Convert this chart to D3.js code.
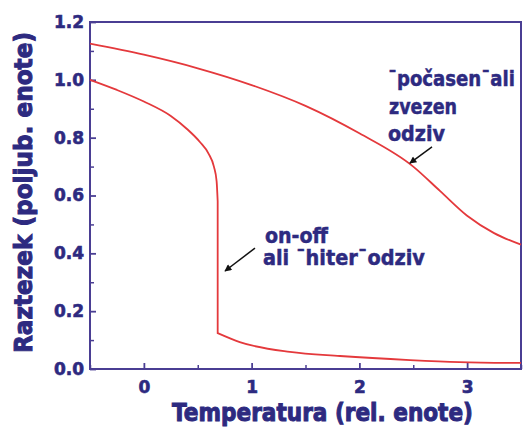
<!DOCTYPE html>
<html>
<head>
<meta charset="utf-8">
<script src="https://cdn.jsdelivr.net/npm/d3@7"></script>
<style>
  html, body { margin: 0; padding: 0; background: #fff; }
  #chart { width: 531px; height: 431px; }
</style>
</head>
<body>
<div id="chart"></div>
<script>
// tick values
const xTicks = [0, 1, 2, 3];
const xMinor = [-0.5, 0.5, 1.5, 2.5, 3.5];
const yTicks = [0, 0.2, 0.4, 0.6, 0.8, 1.0, 1.2];
const yMinor = [0.1, 0.3, 0.5, 0.7, 0.9, 1.1];

// "slow" (continuous) response
const slowX = [-0.5, 0, 0.5, 1, 1.5, 2, 2.5, 2.75, 3, 3.25, 3.5];
const slowY = [1.125, 1.087, 1.04, 0.982, 0.91, 0.815, 0.70, 0.615, 0.53, 0.47, 0.43];

// "fast" (on-off) response, the repeated x is the jump
const fastX = [-0.5, -0.25, 0, 0.25, 0.4, 0.52, 0.6, 0.65, 0.675, 0.685, 0.685, 0.89, 1.355, 1.82, 2.47, 2.93, 3.5];
const fastY = [1.0, 0.965, 0.925, 0.875, 0.83, 0.785, 0.745, 0.70, 0.65, 0.58, 0.124, 0.093, 0.059, 0.045, 0.031, 0.024, 0.021];

// annotation texts
const slowLabel = ['ˉpočasenˉali', 'zvezen', 'odziv'];
const fastLabel = ['on-off', 'ali ˉhiterˉodziv'];

document.addEventListener('DOMContentLoaded', function () {
    const W = 531, H = 431;
    const margin = {top: 22, right: 10, bottom: 62, left: 90};
    const textCol = '#2d2a80';
    const axisCol = '#4a3e93';
    const red = '#e4393c';
    const font = '"DejaVu Sans", sans-serif';

    const svg = d3.select('#chart')
        .append('svg')
        .attr('width', W)
        .attr('height', H);

    const x = d3.scaleLinear().domain([-0.5, 3.5]).range([margin.left, W - margin.right]);
    const y = d3.scaleLinear().domain([0, 1.2]).range([H - margin.bottom, margin.top]);

    // minor ticks first
    svg.append('g')
        .attr('transform', `translate(0,${y(0)})`)
        .call(d3.axisBottom(x).tickValues(xMinor).tickSize(-4).tickFormat(''))
        .call(g => g.select('.domain').remove())
        .call(g => g.selectAll('line').attr('stroke', axisCol).attr('stroke-width', 1.5));

    svg.append('g')
        .attr('transform', `translate(${x(-0.5)},0)`)
        .call(d3.axisLeft(y).tickValues(yMinor).tickSize(-4).tickFormat(''))
        .call(g => g.select('.domain').remove())
        .call(g => g.selectAll('line').attr('stroke', axisCol).attr('stroke-width', 1.5));

    // major ticks + labels
    svg.append('g')
        .attr('transform', `translate(0,${y(0)})`)
        .call(d3.axisBottom(x).tickValues(xTicks).tickSize(-6).tickPadding(12).tickFormat(d3.format('d')))
        .call(g => g.select('.domain').remove())
        .call(g => g.selectAll('line').attr('stroke', axisCol).attr('stroke-width', 1.8))
        .call(g => g.selectAll('text')
            .attr('fill', textCol)
            .attr('stroke', textCol)
            .attr('stroke-width', 0.6)
            .style('font', `bold 17px ${font}`));

    svg.append('g')
        .attr('transform', `translate(${x(-0.5)},0)`)
        .call(d3.axisLeft(y).tickValues(yTicks).tickSize(-6).tickPadding(6).tickFormat(d3.format('.1f')))
        .call(g => g.select('.domain').remove())
        .call(g => g.selectAll('line').attr('stroke', axisCol).attr('stroke-width', 1.8))
        .call(g => g.selectAll('text')
            .attr('fill', textCol)
            .attr('stroke', textCol)
            .attr('stroke-width', 0.6)
            .style('font', `bold 17px ${font}`));

    // frame
    svg.append('rect')
        .attr('x', x(-0.5))
        .attr('y', y(1.2))
        .attr('width', x(3.5) - x(-0.5))
        .attr('height', y(0) - y(1.2))
        .attr('fill', 'none')
        .attr('stroke', axisCol)
        .attr('stroke-width', 2);

    // curves
    const line = d3.line()
        .x(d => x(d[0]))
        .y(d => y(d[1]))
        .curve(d3.curveMonotoneX);

    const slowPts = slowX.map((v, i) => [v, slowY[i]]);
    svg.append('path')
        .attr('d', line(slowPts))
        .attr('fill', 'none')
        .attr('stroke', red)
        .attr('stroke-width', 1.8);

    const fastPts = fastX.map((v, i) => [v, fastY[i]]);
    let jump = fastX.findIndex((v, i) => i > 0 && v === fastX[i - 1]);
    const fastPath = line(fastPts.slice(0, jump)) + line(fastPts.slice(jump)).replace(/^M/, 'L');
    svg.append('path')
        .attr('d', fastPath)
        .attr('fill', 'none')
        .attr('stroke', red)
        .attr('stroke-width', 1.8);

    // arrows
    svg.append('defs').append('marker')
        .attr('id', 'head')
        .attr('viewBox', '0 0 10 10')
        .attr('refX', 9)
        .attr('refY', 5)
        .attr('markerWidth', 11)
        .attr('markerHeight', 7)
        .attr('markerUnits', 'userSpaceOnUse')
        .attr('orient', 'auto')
        .append('path')
        .attr('d', 'M0,0 L10,5 L0,10 Z')
        .attr('fill', '#111');

    const arrows = [
        [[2.674, 0.768], [2.469, 0.712]],
        [[1.031, 0.418], [0.753, 0.339]]
    ];
    svg.selectAll('.arrow')
        .data(arrows)
        .enter()
        .append('line')
        .attr('class', 'arrow')
        .attr('x1', d => x(d[0][0]))
        .attr('y1', d => y(d[0][1]))
        .attr('x2', d => x(d[1][0]))
        .attr('y2', d => y(d[1][1]))
        .attr('stroke', '#111')
        .attr('stroke-width', 1.5)
        .attr('marker-end', 'url(#head)');

    // annotation text (squeezed like the original)
    function label(txt, tx, ty, size, len, anchor) {
        svg.append('text')
            .attr('x', tx)
            .attr('y', ty)
            .attr('text-anchor', anchor || 'start')
            .attr('fill', textCol)
            .attr('stroke', textCol)
            .attr('stroke-width', 0.5)
            .attr('textLength', len)
            .attr('lengthAdjust', 'spacingAndGlyphs')
            .style('font', `bold ${size}px ${font}`)
            .text(txt);
    }

    label(slowLabel[0], x(2.265) + 127, y(0.979), 21, 127, 'end');
    label(slowLabel[1], x(2.275), y(0.882), 21, 68);
    label(slowLabel[2], x(2.265), y(0.788), 21, 57);
    label(fastLabel[0], x(1.124), y(0.436), 21, 63);
    label(fastLabel[1], x(1.105), y(0.36), 21, 162);

    // axis titles
    svg.append('text')
        .attr('x', 172)
        .attr('y', 421)
        .attr('fill', textCol)
        .attr('stroke', textCol)
        .attr('stroke-width', 1)
        .attr('textLength', 301)
        .attr('lengthAdjust', 'spacingAndGlyphs')
        .style('font', `bold 24px ${font}`)
        .text('Temperatura (rel. enote)');

    svg.append('text')
        .attr('transform', 'translate(32,353) rotate(-90)')
        .attr('fill', textCol)
        .attr('stroke', textCol)
        .attr('stroke-width', 1)
        .attr('textLength', 321)
        .attr('lengthAdjust', 'spacingAndGlyphs')
        .style('font', `bold 24px ${font}`)
        .text('Raztezek (poljub. enote)');
});
</script>
</body>
</html>
